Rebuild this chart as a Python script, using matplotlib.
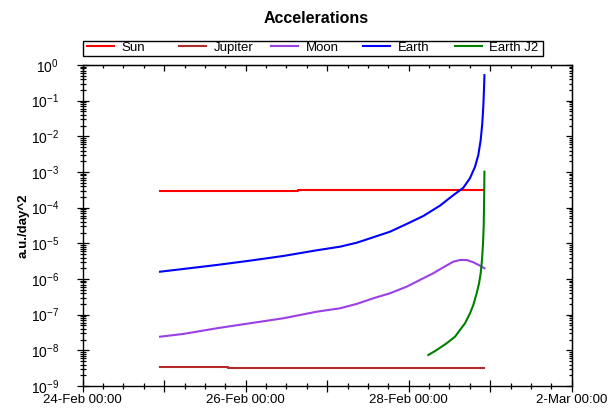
import matplotlib
matplotlib.use('Agg')
import matplotlib.pyplot as plt
import matplotlib.dates as mdates
from matplotlib.patches import Rectangle
import pandas as pd

plt.rcParams['font.family'] = ['Liberation Sans', 'DejaVu Sans']
plt.rcParams['mathtext.fontset'] = 'custom'
plt.rcParams['mathtext.rm'] = 'Liberation Sans'
plt.rcParams['mathtext.it'] = 'Liberation Sans:italic'

# data (a.u./day^2)
sun_t = ['2023-02-24 22:46', '2023-02-26 15:30', '2023-02-26 15:30', '2023-02-28 22:18']
sun_a = [3.0e-4, 3.0e-4, 3.2e-4, 3.2e-4]

jup_t = ['2023-02-24 22:46', '2023-02-25 18:40', '2023-02-25 18:40', '2023-02-28 22:18']
jup_a = [3.4e-9, 3.4e-9, 3.15e-9, 3.15e-9]

moon_t = ['2023-02-24 22:46', '2023-02-25 05:37', '2023-02-25 15:27', '2023-02-26 01:16',
          '2023-02-26 11:04', '2023-02-26 20:54', '2023-02-27 03:46', '2023-02-27 08:41',
          '2023-02-27 13:35', '2023-02-27 18:30', '2023-02-27 23:24', '2023-02-28 04:18',
          '2023-02-28 07:15', '2023-02-28 10:12', '2023-02-28 13:08', '2023-02-28 15:06',
          '2023-02-28 17:05', '2023-02-28 19:02', '2023-02-28 21:00', '2023-02-28 22:18']
moon_a = [2.41e-8, 2.88e-8, 4.15e-8, 5.74e-8, 7.92e-8, 1.21e-7, 1.51e-7, 2.0e-7,
          2.88e-7, 3.98e-7, 6.1e-7, 1.05e-6, 1.45e-6, 2.13e-6, 3.06e-6, 3.41e-6,
          3.41e-6, 2.94e-6, 2.36e-6, 2.0e-6]

earth_t = ['2023-02-24 22:46', '2023-02-25 05:37', '2023-02-25 15:27', '2023-02-26 01:16',
           '2023-02-26 11:04', '2023-02-26 20:54', '2023-02-27 03:46', '2023-02-27 08:41',
           '2023-02-27 13:35', '2023-02-27 18:30', '2023-02-27 23:24', '2023-02-28 04:18',
           '2023-02-28 09:13', '2023-02-28 12:10', '2023-02-28 14:08', '2023-02-28 16:05',
           '2023-02-28 18:03', '2023-02-28 19:32', '2023-02-28 20:30', '2023-02-28 21:12',
           '2023-02-28 21:40', '2023-02-28 21:58', '2023-02-28 22:10', '2023-02-28 22:18']
earth_a = [1.6e-6, 1.91e-6, 2.47e-6, 3.27e-6, 4.42e-6, 6.38e-6, 8.05e-6, 1.04e-5,
           1.48e-5, 2.12e-5, 3.49e-5, 5.84e-5, 1.14e-4, 1.9e-4, 2.63e-4, 3.63e-4,
           6.7e-4, 1.41e-3, 3.0e-3, 7.9e-3, 2.3e-2, 6.8e-2, 0.2, 0.52]

j2_t = ['2023-02-28 05:46', '2023-02-28 08:15', '2023-02-28 11:11', '2023-02-28 13:38',
        '2023-02-28 15:06', '2023-02-28 16:35', '2023-02-28 18:03', '2023-02-28 19:02',
        '2023-02-28 20:01', '2023-02-28 20:43', '2023-02-28 21:12', '2023-02-28 21:35',
        '2023-02-28 21:53', '2023-02-28 22:05', '2023-02-28 22:10', '2023-02-28 22:14',
        '2023-02-28 22:18']
j2_a = [7.4e-9, 1.02e-8, 1.58e-8, 2.41e-8, 3.72e-8, 5.74e-8, 1.09e-7, 1.87e-7,
        3.98e-7, 7.6e-7, 1.45e-6, 3.41e-6, 1.0e-5, 2.93e-5, 8.6e-5, 2.53e-4, 1.02e-3]

series = [
    ('Sun', sun_t, sun_a, '#ff0000'),
    ('Jupiter', jup_t, jup_a, '#b22a2a'),
    ('Moon', moon_t, moon_a, '#9a40e6'),
    ('Earth', earth_t, earth_a, '#0000ff'),
    ('Earth J2', j2_t, j2_a, '#008000'),
]

day_ticks = pd.date_range('2023-02-24', '2023-03-02', freq='D')
day_labels = ['24-Feb 00:00', '', '26-Feb 00:00', '', '28-Feb 00:00', '', '2-Mar 00:00']
minor_ticks = pd.date_range('2023-02-24', '2023-03-02', freq='6h')

W, H = 614, 412
fig = plt.figure(figsize=(W / 100, H / 100), dpi=100)
ax = fig.add_axes([82.7 / W, 1 - 386 / H, 489 / W, 321 / H])

handles = []
for name, t, a, c in series:
    ln, = ax.plot(pd.to_datetime(t), a, color=c, lw=1.5, label=name)
    handles.append(ln)

ax.set_yscale('log')
ax.set_ylim(1e-9, 1)
ax.set_xlim(day_ticks[0], day_ticks[-1])
ax.set_xticks(day_ticks, day_labels)
ax.set_xticks(minor_ticks, minor=True)

for s in ax.spines.values():
    s.set_linewidth(1.0)

ax.tick_params(axis='x', which='major', direction='inout', length=8, width=0.9,
               labelsize=9.5, pad=2)
ax.tick_params(axis='x', which='minor', direction='inout', length=5, width=0.9)
ax.tick_params(axis='y', which='major', direction='inout', length=8, width=0.9,
               labelsize=10, pad=13)
ax.tick_params(axis='y', which='minor', direction='inout', length=5, width=0.9)

# ticks pointing inward on top and right
secx = ax.secondary_xaxis('top')
secx.set_xticks(mdates.date2num(day_ticks))
secx.xaxis.set_minor_locator(matplotlib.ticker.FixedLocator(mdates.date2num(minor_ticks)))
secx.tick_params(which='major', direction='in', length=4, width=0.9, labeltop=False)
secx.tick_params(which='minor', direction='in', length=2.5, width=0.9)
secy = ax.secondary_yaxis('right')
secy.tick_params(which='major', direction='in', length=4, width=0.9, labelright=False)
secy.tick_params(which='minor', direction='in', length=2.5, width=0.9)

ax.set_ylabel('a.u./day^2', fontsize=9.5, fontweight='bold')
ax.yaxis.set_label_coords(-53 / 489, 0.5)

fig.text(316 / W, 1 - 18.5 / H, 'Accelerations', ha='center', va='center',
         fontsize=11.5, fontweight='bold')

# legend strip above the axes, fixed-pitch entries
fig.add_artist(Rectangle((82.7 / W, 1 - 56 / H), 460.6 / W, 15.3 / H,
                         transform=fig.transFigure, fill=False, ec='black', lw=1.0))
for i, h in enumerate(handles):
    fig.legend(handles=[h], labels=[h.get_label()], loc='center left',
               bbox_to_anchor=((86.7 + 92.0 * i) / W, 1 - 48 / H),
               frameon=False, borderpad=0, borderaxespad=0, fontsize=9.5,
               handlelength=2.05, handletextpad=0.58)

fig.savefig('out.png', dpi=100)
